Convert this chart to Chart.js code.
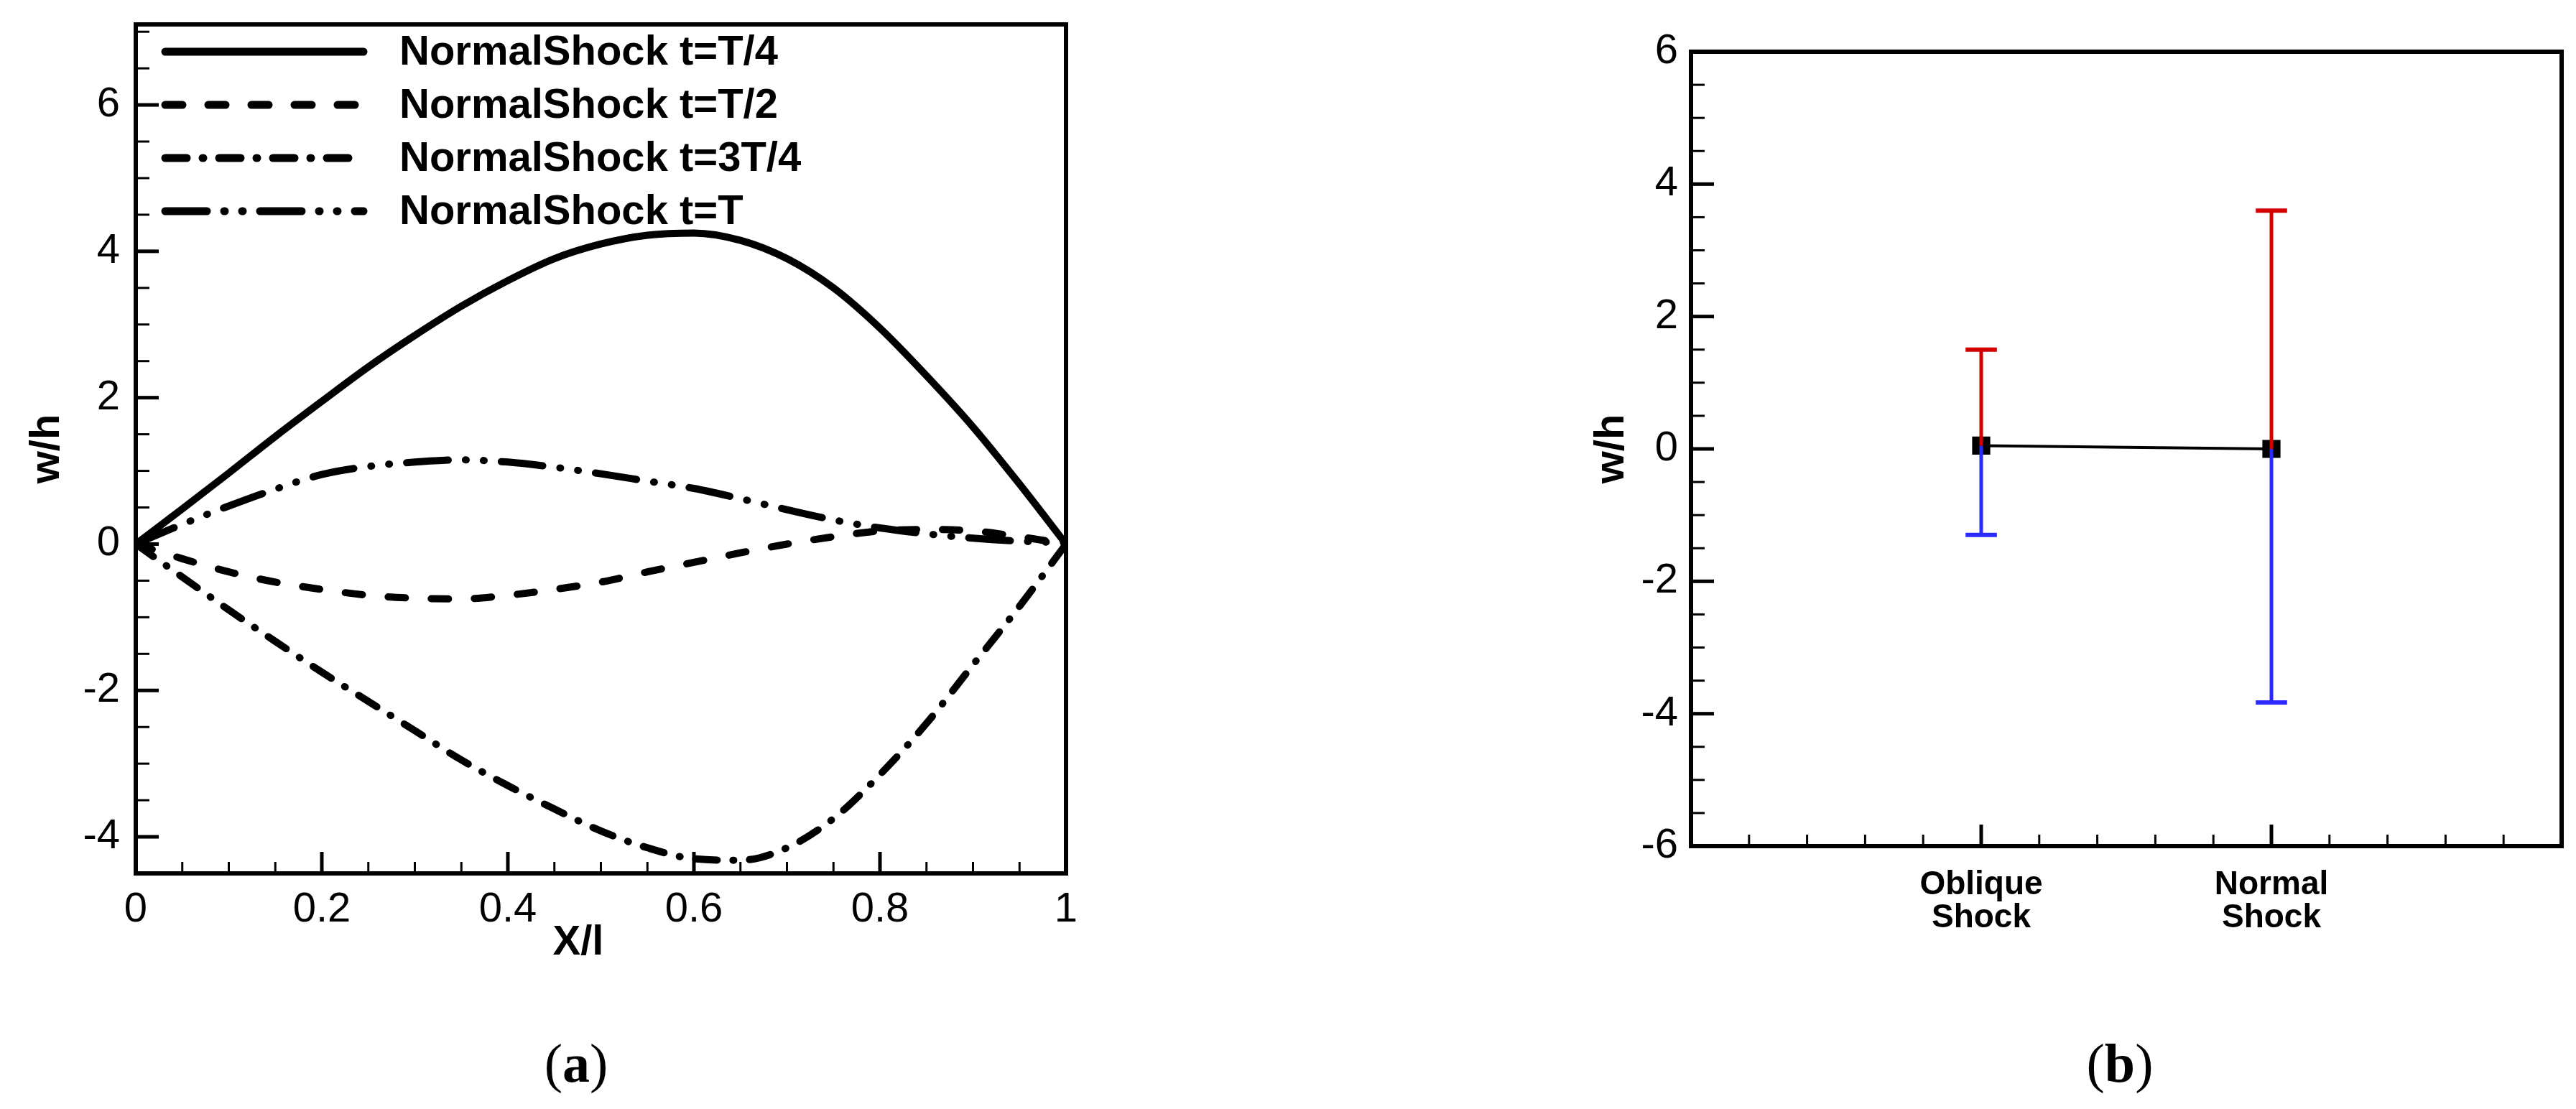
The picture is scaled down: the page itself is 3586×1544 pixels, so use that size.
<!DOCTYPE html>
<html>
<head>
<meta charset="utf-8">
<script src="https://cdn.jsdelivr.net/npm/chart.js@4"></script>
<style>
body { margin: 0; background: #fff; width: 3586px; height: 1544px; position: relative; overflow: hidden; }
.box { position: absolute; top: 0; height: 1544px; }
.cap { position: absolute; font-family: "Liberation Serif", serif; font-size: 76px; transform: translate(-50%, -50%); }
</style>
</head>
<body>
<div class="box" style="left:0;width:1560px"><canvas id="chartA"></canvas></div>
<div class="box" style="left:1800px;width:1786px"><canvas id="chartB"></canvas></div>
<div class="cap" style="left:802px;top:1480px">(<b>a</b>)</div>
<div class="cap" style="left:2951px;top:1480px">(<b>b</b>)</div>
<script>
// (a) 変位分布
var xPos = [0, 0.05, 0.1, 0.15, 0.2, 0.25, 0.3, 0.35, 0.4, 0.45, 0.5, 0.55, 0.6, 0.65, 0.7, 0.75, 0.8, 0.85, 0.9, 0.95, 1];
var wT4 = [0, 0.48, 0.97, 1.47, 1.95, 2.42, 2.85, 3.25, 3.6, 3.9, 4.1, 4.22, 4.25, 4.15, 3.9, 3.5, 2.95, 2.3, 1.6, 0.82, 0];
var wT2 = [0, -0.2, -0.38, -0.52, -0.62, -0.7, -0.74, -0.75, -0.7, -0.62, -0.52, -0.38, -0.25, -0.12, 0, 0.1, 0.18, 0.2, 0.18, 0.1, 0];
var w3T4 = [0, -0.45, -0.9, -1.33, -1.75, -2.15, -2.55, -2.95, -3.3, -3.62, -3.92, -4.15, -4.3, -4.32, -4.15, -3.75, -3.15, -2.45, -1.65, -0.85, 0];
var wT = [0, 0.27, 0.52, 0.75, 0.95, 1.06, 1.12, 1.15, 1.12, 1.05, 0.96, 0.86, 0.76, 0.62, 0.47, 0.33, 0.22, 0.14, 0.08, 0.04, 0.02];
var labelsA = ['NormalShock t=T/4', 'NormalShock t=T/2', 'NormalShock t=3T/4', 'NormalShock t=T'];
var dashesA = [[], [24, 36], [30, 22, 1, 22], [58, 24, 1, 24, 1, 24]];
var xTicksA = [0, 0.2, 0.4, 0.6, 0.8, 1];
var yTicksA = [-4, -2, 0, 2, 4, 6];

// (b) 最大・最小値
var cases = [['Oblique', 'Shock'], ['Normal', 'Shock']];
var casePos = [5, 10];
var meanW = [0.05, 0];
var maxW = [1.5, 3.6];
var minW = [-1.3, -3.83];
var yTicksB = [-6, -4, -2, 0, 2, 4, 6];

var tickFont = { family: 'Liberation Sans', size: 58 };
var boldFont = 'bold 58px "Liberation Sans"';

function pts(ys) {
    var out = [];
    for (var i = 0; i < xPos.length; i++) out.push({ x: xPos[i], y: ys[i] });
    return out;
}

function noPad(s) { s.paddingTop = 0; s.paddingBottom = 0; s.paddingLeft = 0; s.paddingRight = 0; }

// 枠と内向きの目盛り
function frameTicks(opt) {
    return {
        id: 'frame',
        afterDraw: function (chart) {
            var c = chart.ctx, a = chart.chartArea, sx = chart.scales.x, sy = chart.scales.y;
            c.save();
            c.strokeStyle = '#000';
            for (var v = opt.yMin; v <= opt.yMax + 1e-9; v += opt.yMinor) {
                var py = sy.getPixelForValue(v);
                var major = Math.abs(v / opt.yMajor - Math.round(v / opt.yMajor)) < 1e-6;
                c.lineWidth = major ? 5 : 3;
                c.beginPath(); c.moveTo(a.left, py); c.lineTo(a.left + (major ? 32 : 19), py); c.stroke();
            }
            for (var u = opt.xMin; u <= opt.xMax + 1e-9; u += opt.xMinor) {
                var px = sx.getPixelForValue(u);
                var majorX = opt.xMajors.some(function (m) { return Math.abs(m - u) < 1e-6; });
                c.lineWidth = majorX ? 5 : 3;
                c.beginPath(); c.moveTo(px, a.bottom); c.lineTo(px, a.bottom - (majorX ? 30 : 16)); c.stroke();
            }
            c.lineWidth = 6;
            c.strokeRect(a.left, a.top, a.right - a.left, a.bottom - a.top);
            c.fillStyle = '#000';
            c.font = boldFont;
            c.textAlign = 'center';
            c.textBaseline = 'middle';
            if (opt.xTitle) c.fillText(opt.xTitle, opt.xTitleX, opt.xTitleY);
            c.translate(opt.yTitleX, (a.top + a.bottom) / 2);
            c.rotate(-Math.PI / 2);
            c.fillText('w/h', 0, 0);
            c.restore();
        }
    };
}

var legendA = {
    id: 'legendA',
    afterDraw: function (chart) {
        var c = chart.ctx;
        c.save();
        c.font = boldFont;
        c.textBaseline = 'middle';
        c.fillStyle = '#000';
        chart.data.datasets.forEach(function (ds, i) {
            var y = 72 + i * 74;
            c.strokeStyle = '#000';
            c.lineWidth = 11;
            c.lineCap = 'round';
            c.setLineDash(ds.borderDash);
            c.beginPath(); c.moveTo(230, y); c.lineTo(506, y); c.stroke();
            c.fillText(ds.label, 556, y + 2);
        });
        c.restore();
    }
};

var dsA = [wT4, wT2, w3T4, wT].map(function (ys, i) {
    return {
        label: labelsA[i], data: pts(ys), borderColor: '#000', borderWidth: 10,
        borderDash: dashesA[i], borderCapStyle: 'round', pointRadius: 0, cubicInterpolationMode: 'monotone'
    };
});

new Chart(document.getElementById('chartA'), {
    type: 'line',
    data: { datasets: dsA },
    options: {
        responsive: true, maintainAspectRatio: false, animation: false,
        layout: { padding: { top: 34, right: 76, left: 0, bottom: 0 } },
        plugins: { legend: { display: false }, tooltip: { enabled: false } },
        scales: {
            x: {
                type: 'linear', min: 0, max: 1,
                grid: { display: false, drawTicks: false }, border: { display: false },
                afterBuildTicks: function (s) { s.ticks = xTicksA.map(function (v) { return { value: v }; }); },
                afterFit: function (s) { s.height = 328; noPad(s); },
                ticks: { font: tickFont, color: '#000', padding: 16, maxRotation: 0, callback: function (v) { return String(v); } }
            },
            y: {
                min: -4.5, max: 7.1,
                grid: { display: false, drawTicks: false }, border: { display: false },
                afterBuildTicks: function (s) { s.ticks = yTicksA.map(function (v) { return { value: v }; }); },
                afterFit: function (s) { s.width = 189; noPad(s); },
                ticks: { font: tickFont, color: '#000', padding: 22 }
            }
        }
    },
    plugins: [frameTicks({ yMin: -4.5, yMax: 7, yMinor: 0.5, yMajor: 2, xMin: 0, xMax: 1, xMinor: 0.05, xMajors: xTicksA, xTitle: 'X/l', xTitleX: 805, xTitleY: 1313, yTitleX: 66 }), legendA]
});

// (b) 誤差棒をデータから作成
var dsB = [];
for (var k = 0; k < casePos.length; k++) {
    var p = casePos[k];
    dsB.push({ data: [{ x: p, y: meanW[k] }, { x: p, y: maxW[k] }], borderColor: '#d40000', borderWidth: 5, pointRadius: 0 });
    dsB.push({ data: [{ x: p - 0.27, y: maxW[k] }, { x: p + 0.27, y: maxW[k] }], borderColor: '#d40000', borderWidth: 6, pointRadius: 0 });
    dsB.push({ data: [{ x: p, y: meanW[k] }, { x: p, y: minW[k] }], borderColor: '#2a2aff', borderWidth: 5, pointRadius: 0 });
    dsB.push({ data: [{ x: p - 0.27, y: minW[k] }, { x: p + 0.27, y: minW[k] }], borderColor: '#2a2aff', borderWidth: 6, pointRadius: 0 });
}
dsB.push({
    data: casePos.map(function (p, i) { return { x: p, y: meanW[i] }; }),
    borderColor: '#000', backgroundColor: '#000', borderWidth: 4,
    pointStyle: 'rect', pointRadius: 15
});

new Chart(document.getElementById('chartB'), {
    type: 'line',
    data: { datasets: dsB },
    options: {
        responsive: true, maintainAspectRatio: false, animation: false,
        layout: { padding: { top: 72, right: 20, left: 0, bottom: 0 } },
        plugins: { legend: { display: false }, tooltip: { enabled: false } },
        scales: {
            x: {
                type: 'linear', min: 0, max: 15,
                grid: { display: false, drawTicks: false }, border: { display: false },
                afterBuildTicks: function (s) { s.ticks = casePos.map(function (v) { return { value: v }; }); },
                afterFit: function (s) { s.height = 366; noPad(s); },
                ticks: {
                    font: { family: 'Liberation Sans', size: 46, weight: 'bold', lineHeight: 1.0 }, color: '#000', padding: 31, maxRotation: 0,
                    callback: function (v) { return cases[casePos.indexOf(v)]; }
                }
            },
            y: {
                min: -6, max: 6,
                grid: { display: false, drawTicks: false }, border: { display: false },
                afterBuildTicks: function (s) { s.ticks = yTicksB.map(function (v) { return { value: v }; }); },
                afterFit: function (s) { s.width = 554; noPad(s); },
                ticks: { font: tickFont, color: '#000', padding: 18 }
            }
        }
    },
    plugins: [frameTicks({ yMin: -6, yMax: 6, yMinor: 0.5, yMajor: 2, xMin: 1, xMax: 14, xMinor: 1, xMajors: casePos, xTitle: null, yTitleX: 444 })]
});
</script>
</body>
</html>
